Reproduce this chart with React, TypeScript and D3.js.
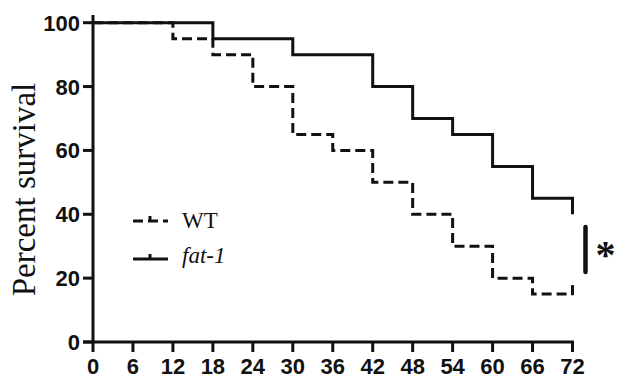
import React from "react";
import * as d3 from "d3";

const xTicks = [0, 6, 12, 18, 24, 30, 36, 42, 48, 54, 60, 66, 72];
const yTicks = [0, 20, 40, 60, 80, 100];

const wtTimes = [0, 12, 18, 24, 30, 36, 42, 48, 54, 60, 66, 72];
const wtValues = [100, 95, 90, 80, 65, 60, 50, 40, 30, 20, 15, 15];
const wtCensored = [72];

const fatTimes = [0, 18, 30, 42, 48, 54, 60, 66, 72];
const fatValues = [100, 95, 90, 80, 70, 65, 55, 45, 40];

const seriesNames = ["WT", "fat-1"];

export default function App() {
  const W = 617, H = 377;
  const x = d3.scaleLinear().domain([0, 72]).range([93, 572.5]);
  const y = d3.scaleLinear().domain([0, 100]).range([342, 22.7]);
  const line = d3
    .line<[number, number]>()
    .x((d) => x(d[0]))
    .y((d) => y(d[1]))
    .curve(d3.curveStepAfter);
  const wtPts = wtTimes.map((t, i) => [t, wtValues[i]] as [number, number]);
  const fatPts = fatTimes.map((t, i) => [t, fatValues[i]] as [number, number]);
  const sw = 3;
  const col = "#111";
  const sans = { fontFamily: "Liberation Sans, Arial, sans-serif" };
  const serif = { fontFamily: "Liberation Serif, Times New Roman, serif" };
  return (
    <svg
      width={W}
      height={H}
      style={{ position: "absolute", left: 0, top: 0, background: "#fff" }}
    >
      {/* data */}
      <path
        d={line(wtPts) || ""}
        fill="none"
        stroke={col}
        strokeWidth={sw}
        strokeDasharray="10,5"
      />
      {wtCensored.map((t) => {
        const v = wtValues[wtTimes.indexOf(t)];
        return (
          <line
            key={t}
            x1={x(t)}
            x2={x(t)}
            y1={y(v) + 1}
            y2={y(v) - 9}
            stroke={col}
            strokeWidth={sw}
          />
        );
      })}
      <path d={line(fatPts) || ""} fill="none" stroke={col} strokeWidth={sw} />

      {/* axes */}
      <line x1={x(0)} x2={x(0)} y1={15} y2={y(0) + 1.5} stroke={col} strokeWidth={sw} />
      <line x1={83} x2={x(72) + 1.5} y1={y(0)} y2={y(0)} stroke={col} strokeWidth={sw} />
      {yTicks.map((t) => (
        <g key={"y" + t}>
          <line x1={83} x2={x(0)} y1={y(t)} y2={y(t)} stroke={col} strokeWidth={sw} />
          <text
            x={80}
            y={y(t) + 8}
            textAnchor="end"
            style={sans}
            fontWeight="bold"
            fontSize={22}
            fill={col}
          >
            {t}
          </text>
        </g>
      ))}
      {xTicks.map((t) => (
        <g key={"x" + t}>
          <line x1={x(t)} x2={x(t)} y1={y(0)} y2={352} stroke={col} strokeWidth={sw} />
          <text
            x={x(t)}
            y={374}
            textAnchor="middle"
            style={sans}
            fontWeight="bold"
            fontSize={22}
            fill={col}
          >
            {t}
          </text>
        </g>
      ))}
      <text
        transform={`translate(35,189.5) rotate(-90)`}
        textAnchor="middle"
        style={serif}
        fontSize={33}
        fill={col}
      >
        Percent survival
      </text>

      {/* legend */}
      <line x1={133} x2={168} y1={221} y2={221} stroke={col} strokeWidth={sw} strokeDasharray="10,5" />
      <line x1={150} x2={150} y1={222} y2={216} stroke={col} strokeWidth={sw} />
      <text x={182} y={228} style={serif} fontSize={23} fill={col}>
        {seriesNames[0]}
      </text>
      <line x1={133} x2={168} y1={259} y2={259} stroke={col} strokeWidth={sw} />
      <line x1={150} x2={150} y1={260} y2={254} stroke={col} strokeWidth={sw} />
      <text x={182} y={263} style={serif} fontStyle="italic" fontSize={23} fill={col}>
        {seriesNames[1]}
      </text>

      {/* significance */}
      <line x1={585.5} x2={585.5} y1={227} y2={272} stroke={col} strokeWidth={4.5} strokeLinecap="round" />
      <text
        x={605.5}
        y={268}
        textAnchor="middle"
        style={serif}
        fontWeight="bold"
        fontSize={40}
        fill={col}
      >
        *
      </text>
    </svg>
  );
}
